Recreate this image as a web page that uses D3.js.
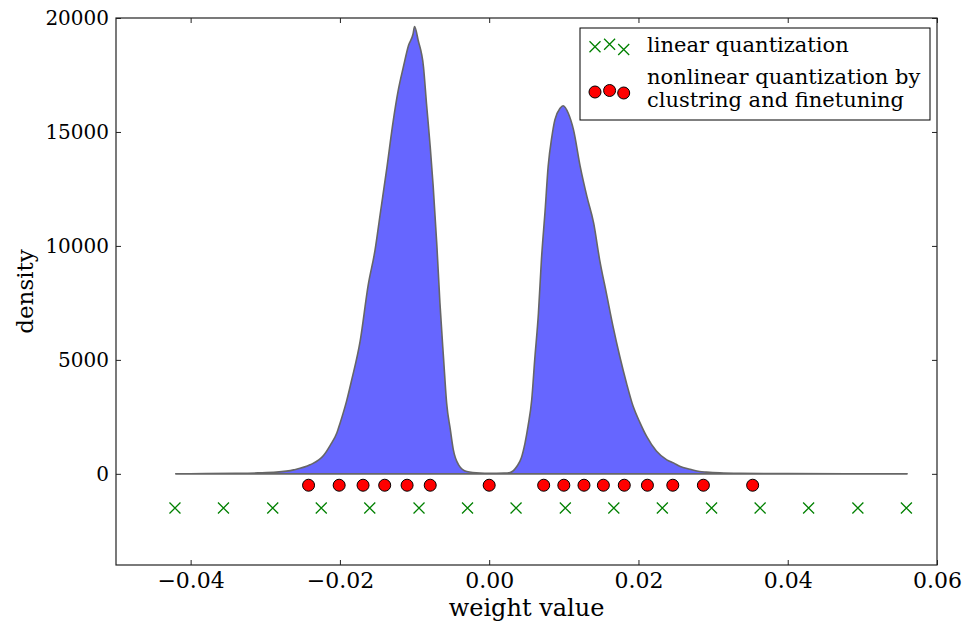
<!DOCTYPE html>
<html><head><meta charset="utf-8">
<script src="https://cdn.jsdelivr.net/npm/d3@7"></script>
<style>
html,body{margin:0;padding:0;background:#fff;}
svg text{font-family:"DejaVu Serif",serif;fill:#000;}
</style></head>
<body>
<svg id="chart" width="967" height="627"></svg>
<script>
// histogram outline: weight value (bin position) and density
const histWeights = [-0.042,-0.038,-0.034,-0.031,-0.0285,-0.0262,-0.0240,-0.0222,-0.0213,-0.0204,-0.0200,-0.0191,-0.0184,-0.0173,-0.0162,-0.0153,-0.0146,-0.0137,-0.01285,-0.0122,-0.0115,-0.0108,-0.0102,-0.0100,-0.0095,-0.0088,-0.0084,-0.0079,-0.0075,-0.0070,-0.0066,-0.0061,-0.0057,-0.0052,-0.0048,-0.0041,-0.0030,-0.0012,0.0000,0.0020,0.0028,0.0037,0.0043,0.0048,0.0052,0.0057,0.0061,0.0066,0.0070,0.0075,0.0079,0.0084,0.0088,0.0095,0.0099,0.0106,0.0113,0.0122,0.0131,0.0140,0.0148,0.0157,0.0166,0.0175,0.0184,0.0193,0.0202,0.0211,0.0224,0.0238,0.0247,0.0256,0.0269,0.0282,0.0291,0.0309,0.0336,0.040,0.048,0.056];
const histDensity = [5,10,20,40,75,175,395,800,1250,1800,2200,3200,4150,5800,8300,9800,11400,13450,15500,16800,17850,18800,19300,19620,19000,17850,16250,14350,12600,9970,7500,5000,3100,1930,1050,395,100,30,20,30,57,320,690,1345,2080,3250,5000,7050,9390,11580,13480,14800,15530,16040,16150,15820,15090,13480,12160,11000,9390,7930,6460,5150,3980,2950,2250,1640,1000,614,480,320,205,100,75,40,20,10,5,3];

// linear quantization levels (green x), drawn at density -1500
const linearLevels = [-0.0421,-0.0356,-0.0290,-0.0225,-0.0160,-0.0094,-0.0029,0.0036,0.0102,0.0167,0.0232,0.0298,0.0363,0.0428,0.0494,0.0559];
const linearY = -1500;
// nonlinear quantization centroids (red circles), drawn at density -500
const nonlinearLevels = [-0.0242,-0.0201,-0.0169,-0.0140,-0.0110,-0.0079,0.0000,0.0073,0.0100,0.0127,0.0153,0.0181,0.0212,0.0246,0.0287,0.0353];
const nonlinearY = -500;

const xTicks = [-0.04,-0.02,0.00,0.02,0.04,0.06];
const yTicks = [0,5000,10000,15000,20000];
const legendLabels = ["linear quantization", ["nonlinear quantization by","clustring and finetuning"]];

const L=116, R=937, T=18, B=565;
const svg = d3.select("#chart");
const x = d3.scaleLinear().domain([-0.05,0.06]).range([L,R]);
const y = d3.scaleLinear().domain([-4000,20000]).range([B,T]);

// histogram
const hist = histWeights.map((w,i)=>({w, d:histDensity[i]}));
const area = d3.area().x(d=>x(d.w)).y0(y(0)).y1(d=>y(d.d)).curve(d3.curveMonotoneX);
svg.append("path").datum(hist).attr("d",area)
  .attr("fill","#6666ff").attr("stroke","#666666").attr("stroke-width",1.6).attr("stroke-linejoin","round");

// markers
const xMark = (cx,cy,s)=>`M${cx-s},${cy-s}L${cx+s},${cy+s}M${cx-s},${cy+s}L${cx+s},${cy-s}`;
svg.append("g").selectAll("path").data(linearLevels).join("path")
  .attr("d",v=>xMark(x(v),y(linearY),5.5)).attr("stroke","#008000").attr("stroke-width",1.3).attr("fill","none");
svg.append("g").selectAll("circle").data(nonlinearLevels).join("circle")
  .attr("cx",v=>x(v)).attr("cy",y(nonlinearY)).attr("r",6)
  .attr("fill","#ff0000").attr("stroke","#000").attr("stroke-width",1);

// axes (ticks inward on all four sides)
const fmtX = d3.format(".2f");
const gB = svg.append("g").attr("transform",`translate(0,${B})`)
  .call(d3.axisBottom(x).tickValues(xTicks).tickFormat(fmtX).tickSizeInner(-5).tickSizeOuter(0).tickPadding(7));
const gT = svg.append("g").attr("transform",`translate(0,${T})`)
  .call(d3.axisTop(x).tickValues(xTicks).tickFormat("").tickSizeInner(-5).tickSizeOuter(0));
const gL = svg.append("g").attr("transform",`translate(${L},0)`)
  .call(d3.axisLeft(y).tickValues(yTicks).tickFormat(d3.format("d")).tickSizeInner(-5).tickSizeOuter(0).tickPadding(7));
const gR = svg.append("g").attr("transform",`translate(${R},0)`)
  .call(d3.axisRight(y).tickValues(yTicks).tickFormat("").tickSizeInner(-5).tickSizeOuter(0));
[gB,gT,gL,gR].forEach(g=>{
  g.select(".domain").remove();
  g.selectAll("line").attr("stroke","#222").attr("stroke-width",1);
  g.selectAll("text").style("font-family","'DejaVu Serif',serif").attr("fill","#000");
});
gB.selectAll("text").style("font-size","22px");
gL.selectAll("text").style("font-size","20px");
svg.append("rect").attr("x",L).attr("y",T).attr("width",R-L).attr("height",B-T)
  .attr("fill","none").attr("stroke","#222").attr("stroke-width",1.2);

// axis labels
svg.append("text").attr("x",(L+R)/2).attr("y",616).attr("text-anchor","middle")
  .style("font-size","24px").text("weight value");
svg.append("text").attr("transform",`translate(33,${(T+B)/2}) rotate(-90)`).attr("text-anchor","middle")
  .style("font-size","23px").text("density");

// legend
const lg = svg.append("g");
lg.append("rect").attr("x",580).attr("y",28).attr("width",350).attr("height",92)
  .attr("fill","#fff").attr("stroke","#000").attr("stroke-width",1);
const legX = [595,609.6,623.7];
const legXY = [46.8,44.2,49.5];
const legCY = [92,90.5,93];
legX.forEach((cx,i)=>{
  lg.append("path").attr("d",xMark(cx,legXY[i],5.5)).attr("stroke","#008000").attr("stroke-width",1.3).attr("fill","none");
  lg.append("circle").attr("cx",cx).attr("cy",legCY[i]).attr("r",6).attr("fill","#ff0000").attr("stroke","#000");
});
lg.append("text").attr("x",647).attr("y",52).style("font-size","21px").text(legendLabels[0]);
lg.append("text").attr("x",647).attr("y",84).style("font-size","21px").text(legendLabels[1][0]);
lg.append("text").attr("x",647).attr("y",107).style("font-size","21px").text(legendLabels[1][1]);
</script>
</body></html>
